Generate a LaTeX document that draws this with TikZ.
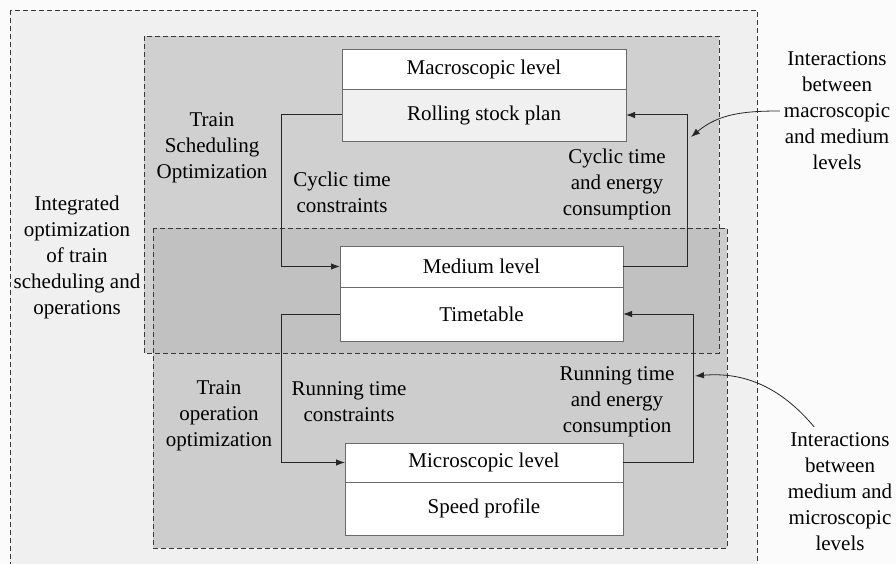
\documentclass[tikz,border=0pt]{standalone}
\usepackage{fontspec}
\setmainfont{Liberation Serif}
\usepackage{tikz}
\usetikzlibrary{arrows,arrows.meta,shapes,positioning,calc,backgrounds,fit}
\definecolor{pagefill}{gray}{0.985}
\definecolor{outfill}{gray}{0.94}
\definecolor{schedfill}{gray}{0.815}
\definecolor{operfill}{gray}{0.805}
\definecolor{overfill}{gray}{0.755}
\definecolor{boxline}{gray}{0.42}
\definecolor{dashline}{gray}{0.22}
\tikzset{
  levtop/.style={draw=boxline,fill=white,line width=0.9pt,inner sep=0pt,outer sep=0pt,
    anchor=north west,minimum width=#1},
  levbot/.style={draw=boxline,line width=0.9pt,inner sep=0pt,outer sep=0pt,minimum height=#1},
  dashbox/.style={draw=dashline,line width=0.9pt,dash pattern=on 5pt off 3pt},
  lbl/.style={align=center,inner sep=0pt},
  link/.style={->,line width=1pt,draw=black!85}
}
\begin{document}
\begin{tikzpicture}[>={Latex[length=9pt,width=6.5pt]},x=1pt,y=-1pt,
  every node/.style={font=\fontsize{21}{26}\selectfont}]
\clip (0,0) rectangle (896,564);
\fill[pagefill] (0,0) rectangle (896,564);
\filldraw[fill=outfill,dashbox] (10,10) rectangle (757,580);
\fill[schedfill] (144,36) rectangle (719,353);
\fill[operfill] (153,228) rectangle (727,548);
\fill[overfill] (153,228) rectangle (719,353);
\draw[dashbox] (144,36) rectangle (719,353);
\draw[dashbox] (153,228) rectangle (727,548);

\node[levtop=284pt,minimum height=40pt] (macro) at (342,49) {Macroscopic level};
\node[levbot=52pt,minimum width=284pt,fill=white!94!black,below=0pt of macro] (rolling) {Rolling stock plan};
\node[levtop=283pt,minimum height=41pt] (medlev) at (340,246) {Medium level};
\node[levbot=54pt,minimum width=283pt,fill=white,below=0pt of medlev] (timetable) {Timetable};
\node[levtop=278pt,minimum height=39pt] (microlev) at (345,443) {Microscopic level};
\node[levbot=53pt,minimum width=278pt,fill=white,below=0pt of microlev] (speed) {Speed profile};

\node[lbl] (integ) at (77,257) {Integrated\\optimization\\of train\\scheduling and\\operations};
\node[lbl] (schedopt) at (212,148) {Train\\Scheduling\\Optimization};
\node[lbl] (cyccons) at (342,192) {Cyclic time\\constraints};
\node[lbl] (cycenergy) at (617,184) {Cyclic time\\and energy\\consumption};
\node[lbl] (interA) at (837,111) {Interactions\\between\\macroscopic\\and medium\\levels};
\node[lbl] (operopt) at (219,416) {Train\\operation\\optimization};
\node[lbl] (runcons) at (349,402) {Running time\\constraints};
\node[lbl] (runenergy) at (617,402) {Running time\\and energy\\consumption};
\node[lbl] (interB) at (840,492) {Interactions\\between\\medium and\\microscopic\\levels};

\draw[link] (rolling.west) -- ++(-61,0) |- (medlev.west);
\draw[link] (medlev.east) -- ++(64,0) |- (rolling.east);
\draw[link] (timetable.west) -- ++(-59,0) |- (microlev.west);
\draw[link] (microlev.east) -- ++(70,0) |- (timetable.east);

\coordinate (tipA) at (691,137);
\coordinate (tipB) at (695,376);
\draw[link,line width=0.8pt] ([xshift=-4pt]interA.west) to[out=180,in=40] (tipA);
\draw[link,line width=0.8pt] ([xshift=-26pt,yshift=6pt]interB.north) to[out=130,in=5] (tipB);
\end{tikzpicture}
\end{document}
